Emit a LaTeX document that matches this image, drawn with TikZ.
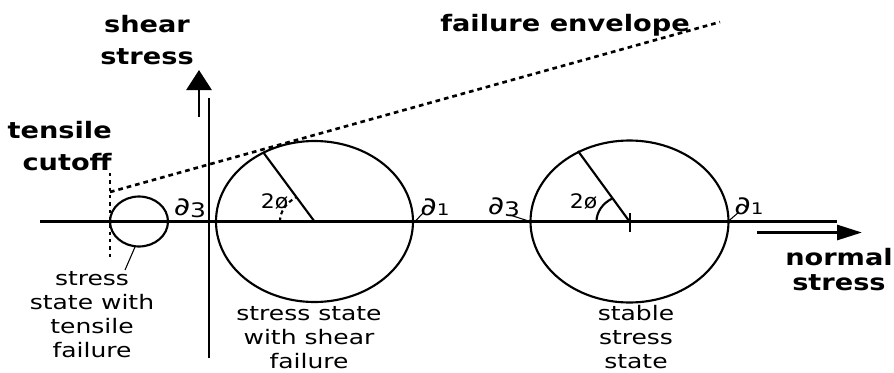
\documentclass[tikz,border=0pt]{standalone}
\usepackage{fontspec}
\newfontfamily\lab[FakeStretch=1.25]{DejaVu Sans}
\newfontfamily\labn[FakeStretch=1.1]{DejaVu Sans}
\newfontfamily\labb[FakeStretch=1.2]{DejaVu Sans}
\usetikzlibrary{arrows.meta}
\begin{document}
\begin{tikzpicture}[x=0.75pt,y=-0.75pt,
 axis/.style={line width=1.7pt},
 mohr/.style={line width=1.6pt},
 dots/.style={line width=2pt, dash pattern=on 2.5pt off 3pt},
 boldlab/.style={inner sep=0pt, align=center, font=\labb\bfseries\fontsize{17}{24}\selectfont},
 lab/.style={inner sep=0pt, align=center, font=\lab\fontsize{15}{18}\selectfont},
 sig/.style={inner sep=0pt, font=\lab\fontsize{19}{20}\selectfont},
 ang/.style={inner sep=0pt, font=\labn\fontsize{15}{17}\selectfont},
 leader/.style={line width=0.8pt},
]
\path[use as bounding box] (0,0) rectangle (894,372);

% axes
\coordinate (hx0) at (40,221.5);
\coordinate (hx1) at (837,221.5);
\coordinate (vy0) at (209,98);
\coordinate (vy1) at (209,358);
\draw[axis] (hx0) -- (hx1);
\draw[axis] (vy0) -- (vy1);

% axis arrows
\coordinate (sa0) at (199,117);
\coordinate (sa1) at (199,70);
\draw[line width=2.2pt, -{Triangle[length=15pt,width=18.75pt]}] (sa0) -- (sa1);
\coordinate (na0) at (757,232.5);
\coordinate (na1) at (862,232.5);
\draw[line width=2.2pt, -{Triangle[length=18.75pt,width=11.25pt]}] (na0) -- (na1);

% tensile cutoff and failure envelope
\coordinate (tc0) at (110,173);
\coordinate (tc1) at (110,257);
\draw[dots] (tc0) -- (tc1);
\coordinate (fe0) at (110,192);
\coordinate (fe1) at (720,22);
\draw[dots, dash pattern=on 3.5pt off 3pt] (fe0) -- (fe1);

% small circle
\coordinate (o0) at (139,221.5);
\draw[mohr] (o0) ellipse [x radius=29, y radius=25];

% circle 1 (shear failure)
\coordinate (o1) at (314.5,221.5);
\coordinate (p1) at (263,152);
\coordinate (a1) at (280,221.5);
\draw[mohr] (o1) ellipse [x radius=98.5, y radius=80.5];
\draw[mohr] (o1) -- (p1);
\draw[mohr, dash pattern=on 3pt off 2.5pt] (a1) arc[start angle=180, end angle=238, x radius=34.5, y radius=28.5];

% circle 2 (stable)
\coordinate (o2) at (629.5,221.5);
\coordinate (p2) at (578,151);
\coordinate (a2) at (596.5,221.5);
\coordinate (t0) at (630,213);
\coordinate (t1) at (630,232);
\draw[mohr] (o2) ellipse [x radius=99, y radius=81];
\draw[mohr] (o2) -- (p2);
\draw[mohr] (t0) -- (t1);
\draw[mohr] (a2) arc[start angle=180, end angle=238, x radius=33, y radius=27];

% angle labels
\node[ang] (ang1) at (274.5,202) {2ø};
\node[ang] (ang2) at (583.5,202) {2ø};

% sigma labels
\node[sig] (s3a) at (190,208) {∂\raisebox{-1.5pt}{\fontsize{15}{16}\selectfont 3}};
\node[sig] (s1a) at (435,207) {∂\fontsize{12}{13}\selectfont 1};
\node[sig] (s3b) at (504,207) {∂\raisebox{-1.5pt}{\fontsize{15}{16}\selectfont 3}};
\node[sig] (s1b) at (749,206) {∂\fontsize{12}{13}\selectfont 1};
\coordinate (l1a) at (415,221.5);
\coordinate (l1b) at (423,213);
\draw[leader] (l1a) -- (l1b);
\coordinate (l3a) at (510,215);
\coordinate (l3b) at (530,221.5);
\draw[leader] (l3a) -- (l3b);
\coordinate (l1c) at (728,221.5);
\coordinate (l1d) at (739,212);
\draw[leader] (l1c) -- (l1d);

% axis labels
\node[boldlab, anchor=north] (shear) at (147,15) {shear\\stress};
\node[boldlab, anchor=north east, align=right] (tensile) at (112,121) {tensile\\cutoff};
\node[boldlab, anchor=north west] (envelope) at (440,14) {failure envelope};
\node[boldlab, anchor=north east, align=center, font=\labb\bfseries\fontsize{17}{18.75}\selectfont] (normal) at (893,248) {normal\\stress};

% state labels
\coordinate (tf0) at (135,247);
\coordinate (tf1) at (125,270);
\draw[leader] (tf0) -- (tf1);
\node[lab, anchor=north] (tensfail) at (92,271) {stress\\state with\\tensile\\failure};
\node[lab, anchor=north] (shearfail) at (309,306) {stress state\\with shear\\failure};
\node[lab, anchor=north] (stable) at (636,305) {stable\\stress\\state};
\end{tikzpicture}
\end{document}
